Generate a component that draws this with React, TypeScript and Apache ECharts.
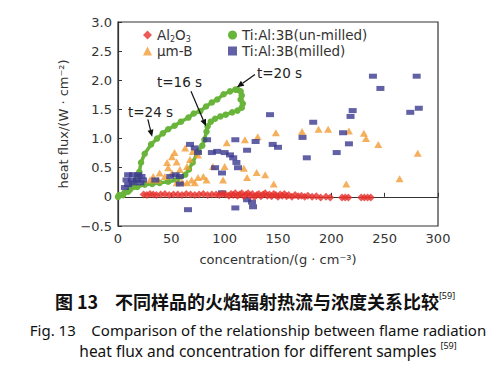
import React, { useEffect, useRef } from "react";
import * as echarts from "echarts";

const xTicks = [0, 50, 100, 150, 200, 250, 300];
const yTicks = [-0.5, 0, 0.5, 1.0, 1.5, 2.0, 2.5, 3.0];

const seriesNames = ["Al2O3", "μm-B", "Ti:Al:3B(un-milled)", "Ti:Al:3B(milled)"];

const al2o3: number[][] = [
  [24, 0.04], [27, 0.03], [30, 0.05], [33, 0.04], [36, 0.03], [40, 0.04], [44, 0.05], [48, 0.03],
  [52, 0.04], [56, 0.04], [60, 0.03], [64, 0.05], [68, 0.04], [72, 0.03], [76, 0.04], [80, 0.05],
  [84, 0.03], [88, 0.04], [92, 0.04], [95, 0.03], [98, 0.05], [101, 0.04], [104, 0.02], [106, 0.05],
  [108, 0.03], [110, 0.06], [112, 0.02], [114, 0.04], [116, 0.06], [118, 0.01], [120, 0.04], [122, 0.06],
  [124, 0.02], [126, 0.05], [128, 0.0], [130, 0.03], [132, 0.05], [134, 0.01], [136, 0.04], [138, 0.06],
  [140, 0.02], [142, 0.04], [144, 0.01], [146, 0.05], [148, 0.03], [150, 0.0], [152, 0.04], [154, 0.02],
  [156, 0.05], [158, 0.01], [160, 0.03], [163, 0.0], [166, 0.03], [169, 0.01], [172, 0.02], [175, 0.0],
  [178, 0.02], [182, 0.0], [186, 0.01], [190, -0.01], [195, 0.0], [199, -0.01], [210, -0.01], [213, -0.01],
  [216, -0.01], [228, -0.01], [231, -0.01], [234, -0.01], [237, -0.01],
];

const umB: number[][] = [
  [30, 0.29], [33, 0.35], [37.5, 0.29], [39, 0.41], [44, 0.35], [46, 0.59], [47, 0.5], [50.6, 0.69],
  [50.6, 0.41], [53, 0.76], [55, 0.6], [55, 0.24], [58, 0.47], [60, 0.26], [63, 0.84], [64.7, 0.52],
  [64.7, 0.24], [67.5, 0.64], [69, 0.29], [70, 0.78], [72, 0.24], [75, 0.72], [75, 0.33], [80, 0.35],
  [83, 0.29], [89, 0.52], [98.5, 0.29], [100, 0.52], [102, 0.93], [118, 0.49], [119, 0.98], [121, 0.33],
  [130, 0.42], [131, 1.03], [138, 0.38], [146, 0.22], [148, 1.1], [172.5, 1.12], [188, 1.16], [197, 1.16],
  [214, 0.22], [216.5, 1.13], [230.5, 1.09], [232.5, 1.0], [244, 0.9], [264, 0.31], [281, 0.75],
];

const unMilled: number[][] = [
  [0, 0], [4.7, 0.03], [9.4, 0.09], [13, 0.17], [17, 0.29], [20, 0.43], [21.6, 0.59], [25, 0.74],
  [31, 0.9], [36.6, 1.0], [42, 1.09], [47, 1.16], [53, 1.22], [59, 1.29], [66, 1.36], [71, 1.43],
  [77, 1.47], [82.5, 1.55], [88, 1.62], [93, 1.67], [99, 1.76], [105, 1.81], [110, 1.84], [112, 1.84],
  [115, 1.81], [116, 1.74], [115, 1.67], [117, 1.6], [116, 1.53], [112, 1.48], [107, 1.45], [101, 1.41],
  [96, 1.38], [91, 1.34], [87, 1.29], [84, 1.21], [83, 1.12], [81, 0.98], [79, 0.88], [75, 0.78],
  [70, 0.59], [66.5, 0.47], [63, 0.38], [55, 0.29], [47, 0.26], [39, 0.24], [32, 0.22], [25, 0.21],
  [18, 0.17], [11, 0.12], [6, 0.07], [1, 0.03],
];

const milled: number[][] = [
  [6.5, 0.16], [8, 0.29], [9.5, 0.38], [9.5, 0.21], [13, 0.29], [14, 0.38], [14, 0.24], [18, 0.29],
  [19, 0.38], [21, 0.24], [22, 0.35], [23.5, 0.29], [35, 0.29], [49, 0.35], [54, 0.38], [58, 0.35],
  [58, 0.22], [65.6, -0.22], [67.5, 0.9], [72, 0.84], [75, 0.76], [83.5, 0.98], [88, 0.76], [93, 0.78],
  [91, 0.5], [97.5, 0.41], [97.5, 0.07], [100, 0.76], [105, 0.72], [110, 0.98], [108, 0.67], [111, 0.59],
  [112.5, 0.5], [110, -0.19], [121, -0.05], [125.6, -0.09], [126.6, -0.17], [121, 0.8], [129, 0.95],
  [145, 0.9], [150, 0.85], [142.5, 1.41], [173, 1.02], [177, 0.67], [183, 1.28], [205, 0.76], [211, 1.1],
  [216.5, 0.91], [218, 1.38], [220, 1.48], [239, 2.07], [246, 1.86], [274, 1.45], [282, 1.52], [280, 2.07],
];

const arrows = [
  { label: "t=24 s", from: [28, 1.33], to: [32, 1.03], textAt: [128, 112] },
  { label: "t=16 s", from: [68.4, 1.81], to: [82.5, 1.21], textAt: [157, 82] },
  { label: "t=20 s", from: [128.4, 2.1], to: [111.5, 1.88], textAt: [257, 73] },
];

const FONT = "'DejaVu Sans', 'Noto Sans', sans-serif";
const CAP = "'Noto Sans', 'DejaVu Sans', sans-serif";
const CJK = "'Noto Sans CJK SC', 'Noto Sans', sans-serif";

export default function App() {
  const ref = useRef<HTMLDivElement>(null);
  useEffect(() => {
    if (!ref.current) return;
    const chart = echarts.init(ref.current, undefined, { renderer: "svg" });
    const legendText = {
      fontFamily: FONT,
      fontSize: 13.5,
      color: "#333",
      lineHeight: 16,
      rich: {
        s: { fontFamily: FONT, fontSize: 8, lineHeight: 16, verticalAlign: "bottom", color: "#333" },
      },
    };
    const legendFmt = (n: string) => (n === "Al2O3" ? "Al{s|2}O{s|3}" : n);
    chart.setOption({
      animation: false,
      backgroundColor: "#fff",
      grid: {
        left: 118, top: 22, width: 320, height: 204,
        show: true, borderColor: "#333", borderWidth: 1.2, backgroundColor: "transparent",
      },
      legend: [
        {
          left: 138, top: 22, orient: "vertical", itemWidth: 9, itemHeight: 9, itemGap: 0,
          data: [
            { name: seriesNames[0], icon: "diamond" },
            { name: seriesNames[1], icon: "triangle" },
          ],
          textStyle: legendText, formatter: legendFmt,
        },
        {
          left: 223, top: 22, orient: "vertical", itemWidth: 9, itemHeight: 9, itemGap: 0,
          data: [
            { name: seriesNames[2], icon: "circle" },
            { name: seriesNames[3], icon: "rect" },
          ],
          textStyle: legendText, formatter: legendFmt,
        },
      ],
      xAxis: {
        type: "value", min: xTicks[0], max: xTicks[xTicks.length - 1], interval: 50,
        name: "concentration/(g · cm⁻³)", nameLocation: "middle", nameGap: 27,
        nameTextStyle: { fontFamily: FONT, fontSize: 13, color: "#333" },
        axisLine: { show: true, lineStyle: { color: "#333", width: 1.2 } },
        axisTick: { show: true, inside: true, length: 4, lineStyle: { color: "#333" } },
        axisLabel: { fontFamily: FONT, fontSize: 13, color: "#333", margin: 6 },
        splitLine: { show: false },
      },
      yAxis: {
        type: "value", min: yTicks[0], max: yTicks[yTicks.length - 1], interval: 0.5,
        name: "heat flux/(W · cm⁻²)", nameLocation: "middle", nameGap: 40,
        nameTextStyle: { fontFamily: FONT, fontSize: 13, color: "#333" },
        axisLine: { show: true, lineStyle: { color: "#333", width: 1.2 } },
        axisTick: { show: true, inside: true, length: 4, lineStyle: { color: "#333" } },
        axisLabel: {
          fontFamily: FONT, fontSize: 13, color: "#333", margin: 6,
          formatter: (v: number) => (v === 0 ? "0" : v < 0 ? "\u2212" + Math.abs(v).toFixed(1) : v.toFixed(1)),
        },
        splitLine: { show: false },
      },
      series: [
        {
          name: seriesNames[2], type: "line", data: unMilled, symbol: "circle", symbolSize: 6.5,
          showSymbol: true, itemStyle: { color: "#69b43a" }, lineStyle: { color: "#69b43a", width: 3.5 },
          z: 2,
        },
        {
          name: seriesNames[1], type: "scatter", data: umB, symbol: "triangle", symbolSize: [8, 7],
          itemStyle: { color: "#f39c35" }, z: 3,
        },
        {
          name: seriesNames[3], type: "scatter", data: milled, symbol: "rect", symbolSize: [8, 5],
          itemStyle: { color: "#3b3a8e" }, z: 4,
        },
        {
          name: seriesNames[0], type: "scatter", data: al2o3, symbol: "diamond", symbolSize: 8,
          itemStyle: { color: "#e5322d" }, z: 5,
        },
      ],
    });

    const gfx: any[] = [];
    arrows.forEach((a) => {
      const p1 = chart.convertToPixel({ gridIndex: 0 }, a.from) as number[];
      const p2 = chart.convertToPixel({ gridIndex: 0 }, a.to) as number[];
      const dx = p2[0] - p1[0];
      const dy = p2[1] - p1[1];
      const len = Math.sqrt(dx * dx + dy * dy) || 1;
      const ux = dx / len;
      const uy = dy / len;
      const hl = 7;
      const hw = 3;
      const bx = p2[0] - ux * hl;
      const by = p2[1] - uy * hl;
      gfx.push({
        type: "line", z: 100,
        shape: { x1: p1[0], y1: p1[1], x2: bx, y2: by },
        style: { stroke: "#111", lineWidth: 1.2 },
      });
      gfx.push({
        type: "polygon", z: 100,
        shape: { points: [[p2[0], p2[1]], [bx - uy * hw, by + ux * hw], [bx + uy * hw, by - ux * hw]] },
        style: { fill: "#111" },
      });
      gfx.push({
        type: "text", x: a.textAt[0], y: a.textAt[1], z: 100,
        style: { text: a.label, fontFamily: FONT, fontSize: 13.5, fill: "#222", verticalAlign: "middle" },
      });
    });
    gfx.push(
      {
        type: "text", x: 255, y: 301,
        style: {
          text: "{a|图 13}     {a|不同样品的火焰辐射热流与浓度关系比较}{s|[59]}",
          align: "center", verticalAlign: "middle",
          rich: {
            a: { fontFamily: CJK, fontSize: 18, fontWeight: "bold", fill: "#111", lineHeight: 20 },
            s: { fontFamily: CAP, fontSize: 9, fill: "#111", verticalAlign: "top", lineHeight: 20 },
          },
        },
      },
      {
        type: "text", x: 258, y: 330,
        style: {
          text: "Fig. 13    Comparison of the relationship between flame radiation",
          fontFamily: CAP, fontSize: 15, fill: "#111", align: "center", verticalAlign: "middle",
        },
      },
      {
        type: "text", x: 268, y: 351,
        style: {
          text: "heat flux and concentration for different samples {s|[59]}",
          align: "center", verticalAlign: "middle",
          fontFamily: CAP, fontSize: 15.5, fill: "#111",
          rich: {
            s: { fontFamily: CAP, fontSize: 9, fill: "#111", verticalAlign: "top", lineHeight: 20 },
          },
        },
      }
    );
    chart.setOption({ graphic: gfx });
    return () => chart.dispose();
  }, []);
  return <div ref={ref} style={{ position: "absolute", left: 0, top: 0, width: 500, height: 373 }} />;
}
